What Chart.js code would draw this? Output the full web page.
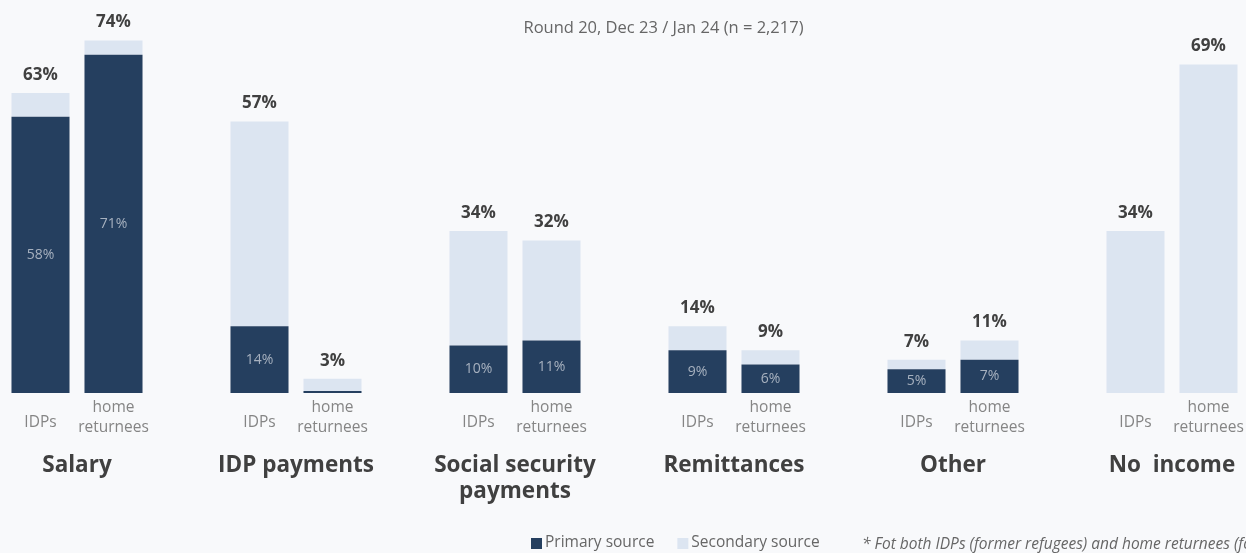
<!DOCTYPE html>
<html>
<head>
<meta charset="utf-8">
<script src="https://cdn.jsdelivr.net/npm/chart.js@4/dist/chart.umd.min.js"></script>
<style>
  html, body { margin: 0; padding: 0; background: #f8f9fb; }
  #wrap { width: 1246px; height: 553px; position: relative; }
</style>
</head>
<body>
<div id="wrap"><canvas id="chart" width="1246" height="553"></canvas></div>
<script>
// Income sources by population group (Round 20)
const incomeSources = ["Salary", "IDP payments", "Social security\npayments", "Remittances", "Other", "No  income"];
const populations = ["IDPs", "home\nreturnees"];

// Share reporting the source as primary / secondary, in the order
// [IDPs, home returnees] for each income source.
const primaryShare   = [58, 71, 14, 0.4, 10, 11, 9, 6, 5, 7, 0, 0];
const secondaryShare = [5, 3, 43, 2.6, 24, 21, 5, 3, 2, 4, 34, 69];
const totalLabels    = ["63%", "74%", "57%", "3%", "34%", "32%", "14%", "9%", "7%", "11%", "34%", "69%"];
const primaryLabels  = ["58%", "71%", "14%", "", "10%", "11%", "9%", "6%", "5%", "7%", "", ""];

const subtitle = "Round 20, Dec 23 / Jan 24 (n = 2,217)";
const legendNames = ["Primary source", "Secondary source"];
const footnote = "* Fot both IDPs (former refugees) and home returnees (former IDPs)";

const PRIMARY = "#253f5f";
const SECONDARY = "#dce5f1";
const FONT = "'Open Sans', 'Noto Sans', sans-serif";

// Lay the bars out on a category axis with an empty slot between sources.
const slotLabels = [], slotPrimary = [], slotSecondary = [], slotIndex = [];
incomeSources.forEach((src, g) => {
  populations.forEach((pop, p) => {
    const k = g * 2 + p;
    slotLabels.push(src + " – " + pop);
    slotPrimary.push(primaryShare[k]);
    slotSecondary.push(secondaryShare[k]);
    slotIndex.push(k);
  });
  if (g < incomeSources.length - 1) {
    slotLabels.push("");
    slotPrimary.push(null);
    slotSecondary.push(null);
    slotIndex.push(-1);
  }
});

const labelsPlugin = {
  id: "labels",
  beforeDraw(chart) {
    const ctx = chart.ctx;
    ctx.save();
    ctx.fillStyle = "#f8f9fb";
    ctx.fillRect(0, 0, chart.width, chart.height);
    ctx.restore();
  },
  afterDatasetsDraw(chart) {
    const ctx = chart.ctx;
    const x = chart.scales.x, y = chart.scales.y;
    ctx.save();
    ctx.textAlign = "center";
    ctx.textBaseline = "middle";
    slotIndex.forEach((k, i) => {
      if (k < 0) return;
      const cx = x.getPixelForValue(i);
      const total = primaryShare[k] + secondaryShare[k];
      ctx.font = "bold 17px " + FONT;
      ctx.fillStyle = "#404040";
      ctx.fillText(totalLabels[k], cx, y.getPixelForValue(total) - 18);
      if (primaryLabels[k]) {
        ctx.font = "14px " + FONT;
        ctx.fillStyle = "#a7b1bf";
        ctx.fillText(primaryLabels[k], cx, y.getPixelForValue(primaryShare[k] / 2));
      }
    });
    ctx.restore();
  },
  afterDraw(chart) {
    const ctx = chart.ctx;
    const x = chart.scales.x;
    const area = chart.chartArea;
    const base = area.bottom;
    ctx.save();
    ctx.textAlign = "center";
    ctx.textBaseline = "middle";

    // population labels under each bar
    ctx.font = "15.5px " + FONT;
    ctx.fillStyle = "#858585";
    slotIndex.forEach((k, i) => {
      if (k < 0) return;
      const cx = x.getPixelForValue(i);
      const lines = populations[k % 2].split("\n");
      if (lines.length === 1) {
        ctx.fillText(lines[0], cx, base + 30);
      } else {
        lines.forEach((ln, j) => ctx.fillText(ln, cx, base + 15 + j * 20));
      }
    });

    // income source names centred under each pair
    ctx.font = "bold 22.5px " + FONT;
    ctx.fillStyle = "#404040";
    let slot = 0;
    incomeSources.forEach((src) => {
      const cx = (x.getPixelForValue(slot) + x.getPixelForValue(slot + 1)) / 2;
      src.split("\n").forEach((ln, j) => ctx.fillText(ln, cx, base + 73 + j * 26));
      slot += 3;
    });

    // subtitle
    ctx.font = "16.5px " + FONT;
    ctx.fillStyle = "#666666";
    ctx.fillText(subtitle, chart.width * 0.5325, 28);

    // legend
    ctx.textAlign = "left";
    const ly = chart.height - 10;
    ctx.font = "15.5px " + FONT;
    const colors = [PRIMARY, SECONDARY];
    let lx = 531;
    legendNames.forEach((name, j) => {
      ctx.fillStyle = colors[j];
      ctx.fillRect(lx, ly - 5, 11, 11);
      ctx.fillStyle = "#666666";
      ctx.fillText(name, lx + 14, ly);
      lx += 14 + ctx.measureText(name).width + 23;
    });

    // footnote
    ctx.font = "italic 15.5px " + FONT;
    ctx.fillStyle = "#666666";
    ctx.fillText(footnote, 862, ly + 2);
    ctx.restore();
  }
};

new Chart(document.getElementById("chart"), {
  type: "bar",
  data: {
    labels: slotLabels,
    datasets: [
      { label: legendNames[0], data: slotPrimary, backgroundColor: PRIMARY, stack: "s" },
      { label: legendNames[1], data: slotSecondary, backgroundColor: SECONDARY, stack: "s" }
    ]
  },
  options: {
    responsive: false,
    animation: false,
    layout: { padding: { left: 4, right: 1, top: 12, bottom: 160 } },
    datasets: { bar: { barPercentage: 0.795, categoryPercentage: 1 } },
    scales: {
      x: { stacked: true, display: false },
      y: { stacked: true, display: false, min: 0, max: 80 }
    },
    plugins: {
      legend: { display: false },
      title: { display: false },
      tooltip: { enabled: false }
    }
  },
  plugins: [labelsPlugin]
});
</script>
</body>
</html>
